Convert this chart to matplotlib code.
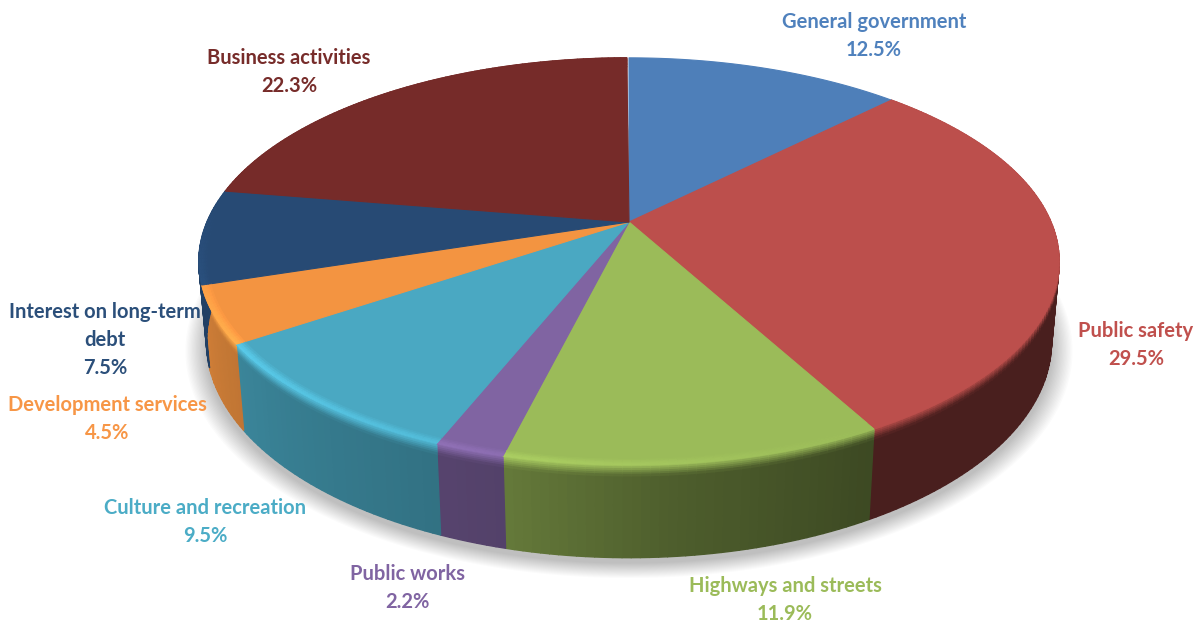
"""Expenses by function, drawn as a tilted 3D pie with bevelled rim and soft shadow."""

import matplotlib

matplotlib.use("Agg")
import matplotlib.pyplot as plt
import numpy as np
from matplotlib.collections import PolyCollection
from matplotlib.colors import to_rgb
from matplotlib.patches import Polygon

categories = [
    "General government",
    "Public safety",
    "Highways and streets",
    "Public works",
    "Culture and recreation",
    "Development services",
    "Interest on long-term\ndebt",
    "Business activities",
]
shares = [12.5, 29.5, 11.9, 2.2, 9.5, 4.5, 7.5, 22.3]
colors = ["#4e7fb9", "#bc4f4c", "#9bbb59", "#8064a2", "#4aa8c2", "#f39441", "#274a74", "#762b29"]
text_colors = ["#4f81bd", "#c0504d", "#9bbb59", "#8064a2", "#4bacc6", "#f79646", "#2b4f7a", "#772c2a"]
label_xy = [
    (874, 36), (1136, 345), (785, 600), (407, 588),
    (205, 522), (107, 419), (105, 340), (289, 72),
]

# perspective of the disc, in pixels
CX, CY = 629, 222
A, B, K = 422, 196, 0.194
VANISH_Y = 4800
WALL_T = 0.0172


def project(theta, r=1.0, depth=0.0):
    """theta runs clockwise from 12 o'clock; depth 0 is the top face, 1 the bottom."""
    xx = r * np.sin(theta)
    yy = r * np.cos(theta)
    den = 1 + K * yy
    px = CX + A * xx / den
    py = CY - B * yy / den
    t = depth * WALL_T / den
    return px + t * (CX - px), py + t * (VANISH_Y - py)


def wall_shade(theta):
    # the light comes from the left, the wall gets darker towards the right
    deg = np.degrees(theta)
    return np.interp(deg, [90, 151, 175, 194, 225, 252, 280], [0.39, 0.39, 0.5, 0.65, 0.75, 0.85, 0.9])


def rim_glow(theta):
    deg = np.degrees(theta)
    return np.interp(deg, [150, 165, 194, 235, 253, 275], [0.0, 0.03, 0.1, 0.2, 0.08, 0.0])


def brighten(rgb, amount):
    return np.clip(np.asarray(rgb) * (1 + amount), 0, 1)


fig = plt.figure(figsize=(12.02, 6.23), dpi=100)
ax = fig.add_axes([0, 0, 1, 1])
ax.set_xlim(0, 1202)
ax.set_ylim(623, 0)
ax.axis("off")

# soft shadow under the base
circle = np.linspace(0, 2 * np.pi, 361)
for i in range(16):
    sx, sy = project(circle, 1.0 + 0.003 * (16 - i), 1.0)
    ax.add_patch(Polygon(np.column_stack([sx, sy + 5]), closed=True, fc="black", ec="none", alpha=0.014, zorder=1))

edges = np.radians(np.cumsum([0] + shares) * 3.6)

# side wall, split into small quads so that the shading can vary around the pie
bands = [0.0, 0.02, 0.04, 0.06, 0.08, 0.10, 0.13, 1.0]
for start, stop, color in zip(edges[:-1], edges[1:], colors):
    if stop < np.radians(85) or start > np.radians(285):
        continue
    base = np.array(to_rgb(color))
    steps = max(int(np.degrees(stop - start)), 2)
    angles = np.linspace(start, stop, steps + 1)
    quads, fills = [], []
    for a0, a1 in zip(angles[:-1], angles[1:]):
        mid = (a0 + a1) / 2
        dark = base * wall_shade(mid)
        light = brighten(base, rim_glow(mid))
        for j, (d0, d1) in enumerate(zip(bands[:-1], bands[1:])):
            x0, y0 = project(a0, 1.0, d0)
            x1, y1 = project(a1, 1.0, d0)
            x2, y2 = project(a1, 1.0, d1)
            x3, y3 = project(a0, 1.0, d1)
            quads.append([(x0, y0), (x1, y1), (x2, y2), (x3, y3)])
            mix = min((j + 0.5) / (len(bands) - 2), 1.0)
            fills.append(light * (1 - mix) + dark * mix)
    ax.add_collection(PolyCollection(quads, facecolors=fills, edgecolors=fills, linewidths=1.0,
                                     joinstyle="round", zorder=2))

# top face
for start, stop, color in zip(edges[:-1], edges[1:], colors):
    arc = np.linspace(start, stop, max(int(np.degrees(stop - start)), 2) + 1)
    ax_x, ax_y = project(arc)
    pts = np.vstack([[CX, CY], np.column_stack([ax_x, ax_y])])
    ax.add_patch(Polygon(pts, closed=True, fc=color, ec=color, lw=0.8, joinstyle="round", zorder=3))

# bevel highlight along the front of the top face
rings = [0.98, 0.985, 0.99, 0.995, 1.0]
ring_gain = [0.25, 0.55, 0.85, 1.0]
for start, stop, color in zip(edges[:-1], edges[1:], colors):
    base = np.array(to_rgb(color))
    lo, hi = max(start, np.radians(150)), min(stop, np.radians(275))
    if hi <= lo:
        continue
    angles = np.linspace(lo, hi, max(int(np.degrees(hi - lo)), 2) + 1)
    quads, fills = [], []
    for a0, a1 in zip(angles[:-1], angles[1:]):
        mid = (a0 + a1) / 2
        for r0, r1, gain in zip(rings[:-1], rings[1:], ring_gain):
            x0, y0 = project(a0, r0)
            x1, y1 = project(a1, r0)
            x2, y2 = project(a1, r1)
            x3, y3 = project(a0, r1)
            quads.append([(x0, y0), (x1, y1), (x2, y2), (x3, y3)])
            fills.append(brighten(base, rim_glow(mid) * gain))
    ax.add_collection(PolyCollection(quads, facecolors=fills, edgecolors=fills, linewidths=0.6,
                                     joinstyle="round", zorder=4))

for name, share, (tx, ty), tc in zip(categories, shares, label_xy, text_colors):
    ax.text(tx, ty, f"{name}\n{share}%", color=tc, ha="center", va="center", ma="center",
            family="Lato", weight="bold", fontsize=14.5, linespacing=1.5, zorder=6)

fig.savefig("out.png", dpi=100)
plt.close(fig)
